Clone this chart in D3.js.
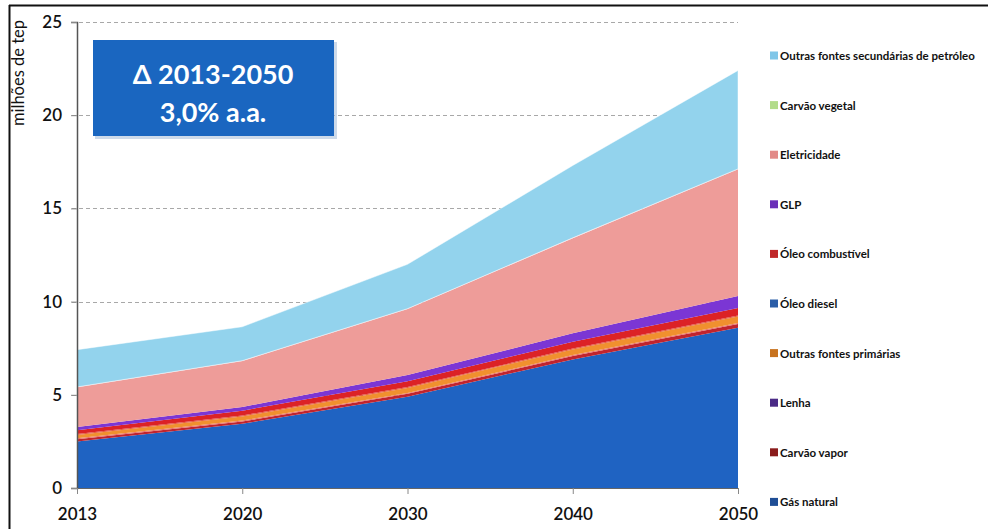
<!DOCTYPE html>
<html>
<head>
<meta charset="utf-8">
<script src="https://cdn.jsdelivr.net/npm/d3@7"></script>
<style>
  html, body { margin: 0; padding: 0; background: #fff; }
  svg { display: block; }
</style>
</head>
<body>
<svg id="chart" width="988" height="529"></svg>
<script>
// Consumo final de energia por fonte (milhões de tep)
const years = ["2013", "2020", "2030", "2040", "2050"];

const gasNatural        = [2.50, 3.45, 4.90, 6.90, 8.60];
const carvaoVapor       = [0.12, 0.12, 0.15, 0.18, 0.20];
const lenha             = [0.05, 0.05, 0.05, 0.05, 0.05];
const outrasPrimarias   = [0.18, 0.22, 0.27, 0.30, 0.35];
const oleoDiesel        = [0.05, 0.05, 0.05, 0.05, 0.05];
const oleoCombustivel   = [0.20, 0.26, 0.31, 0.37, 0.40];
const glp               = [0.17, 0.20, 0.33, 0.45, 0.65];
const eletricidade      = [2.13, 2.46, 3.54, 5.10, 6.80];
const carvaoVegetal     = [0.02, 0.02, 0.02, 0.02, 0.02];
const outrasSecundarias = [2.00, 1.82, 2.38, 3.88, 5.28];

const seriesNames = [
  "Gás natural", "Carvão vapor", "Lenha", "Outras fontes primárias", "Óleo diesel",
  "Óleo combustível", "GLP", "Eletricidade", "Carvão vegetal",
  "Outras fontes secundárias de petróleo"
];
const seriesValues = [
  gasNatural, carvaoVapor, lenha, outrasPrimarias, oleoDiesel,
  oleoCombustivel, glp, eletricidade, carvaoVegetal, outrasSecundarias
];
const areaColors = [
  "#1f63c2", "#c0242e", "#e8706a", "#f0902e", "#e45a3a",
  "#dc2226", "#7b36d4", "#ee9c99", "#f4c0c8", "#93d3ed"
];
const legendColors = [
  "#1f4e96", "#8a1c1c", "#4a2a86", "#c8731f", "#2b5ea8",
  "#c0282a", "#6a2fb8", "#e28a88", "#b2dc8a", "#7fc6e8"
];

const yTicks = [0, 5, 10, 15, 20, 25];

const table = years.map((yr, i) => {
  const row = { year: yr };
  seriesNames.forEach((n, k) => { row[n] = seriesValues[k][i]; });
  return row;
});

const svg = d3.select("#chart");
const font = "Lato, 'Open Sans', 'Liberation Sans', sans-serif";

// outer frame (top and left edges)
svg.append("line").attr("x1", 9.5).attr("x2", 9.5).attr("y1", 5).attr("y2", 529)
  .attr("stroke", "#111").attr("stroke-width", 2);
svg.append("line").attr("x1", 9).attr("x2", 988).attr("y1", 5.5).attr("y2", 5.5)
  .attr("stroke", "#111").attr("stroke-width", 2);

const plot = { left: 77, right: 738, top: 22, bottom: 488 };

const x = d3.scalePoint().domain(years).range([plot.left, plot.right]);
const y = d3.scaleLinear().domain([0, 25]).range([plot.bottom, plot.top]);

// gridlines
svg.append("g").selectAll("line").data(yTicks.filter(d => d > 0)).join("line")
  .attr("x1", plot.left - 5).attr("x2", plot.right)
  .attr("y1", d => Math.round(y(d)) + 0.5).attr("y2", d => Math.round(y(d)) + 0.5)
  .attr("stroke", "#a8a8a8").attr("stroke-width", 1).attr("stroke-dasharray", "4,3");

// stacked areas
const stack = d3.stack().keys(seriesNames);
const layers = stack(table);
const area = d3.area()
  .x(d => x(d.data.year))
  .y0(d => y(d[0]))
  .y1(d => y(d[1]));

svg.append("g").selectAll("path").data(layers).join("path")
  .attr("d", area)
  .attr("fill", (d, i) => areaColors[i])
  .attr("stroke", (d, i) => i === 9 ? "#ffffff" : "none")
  .attr("stroke-opacity", 0.6)
  .attr("stroke-width", 0.8);

// y axis
const yAxis = d3.axisLeft(y).tickValues(yTicks).tickSize(6).tickPadding(9);
const gy = svg.append("g").attr("transform", `translate(${plot.left},0)`).call(yAxis);
gy.select(".domain").attr("stroke", "#555").attr("stroke-width", 1.5);
gy.selectAll(".tick line").attr("stroke", "#888");
gy.selectAll(".tick text").attr("font-family", font).attr("font-size", 17)
  .attr("font-weight", 600).attr("fill", "#111");

// x axis
const xAxis = d3.axisBottom(x).tickSize(6).tickPadding(14);
const gx = svg.append("g").attr("transform", `translate(0,${plot.bottom})`).call(xAxis);
gx.select(".domain").attr("stroke", "#666").attr("stroke-width", 1);
gx.selectAll(".tick line").attr("stroke", "#888");
gx.selectAll(".tick text").attr("font-family", font).attr("font-size", 17)
  .attr("font-weight", 600).attr("fill", "#111");

// y axis title
svg.append("text")
  .attr("transform", "translate(24,73) rotate(-90)")
  .attr("text-anchor", "middle")
  .attr("font-family", font).attr("font-size", 16.5).attr("fill", "#111")
  .text("milhões de tep");

// growth callout box
const box = svg.append("g");
box.append("rect").attr("x", 95).attr("y", 42).attr("width", 242).attr("height", 97)
  .attr("fill", "#9bb6d6").attr("opacity", 0.5);
box.append("rect").attr("x", 93).attr("y", 40).attr("width", 241).attr("height", 96)
  .attr("fill", "#1a66c0");
box.append("text").attr("x", 213).attr("y", 84).attr("text-anchor", "middle")
  .attr("font-family", font).attr("font-size", 27).attr("font-weight", 700)
  .attr("fill", "#fff").text("Δ 2013-2050");
box.append("text").attr("x", 213).attr("y", 122).attr("text-anchor", "middle")
  .attr("font-family", font).attr("font-size", 27).attr("font-weight", 700)
  .attr("fill", "#fff").text("3,0% a.a.");

// legend (top entry is the top layer)
const legendOrder = seriesNames.map((n, i) => i).reverse();
const lg = svg.append("g").selectAll("g").data(legendOrder).join("g")
  .attr("transform", (d, j) => `translate(770,${56 + j * 49.6})`);
lg.append("rect").attr("x", 0).attr("y", -4.5).attr("width", 8).attr("height", 8)
  .attr("fill", d => legendColors[d]);
lg.append("text").attr("x", 10).attr("y", 4)
  .attr("font-family", font).attr("font-size", 11.5).attr("font-weight", 700)
  .attr("fill", "#111").text(d => seriesNames[d]);
</script>
</body>
</html>
